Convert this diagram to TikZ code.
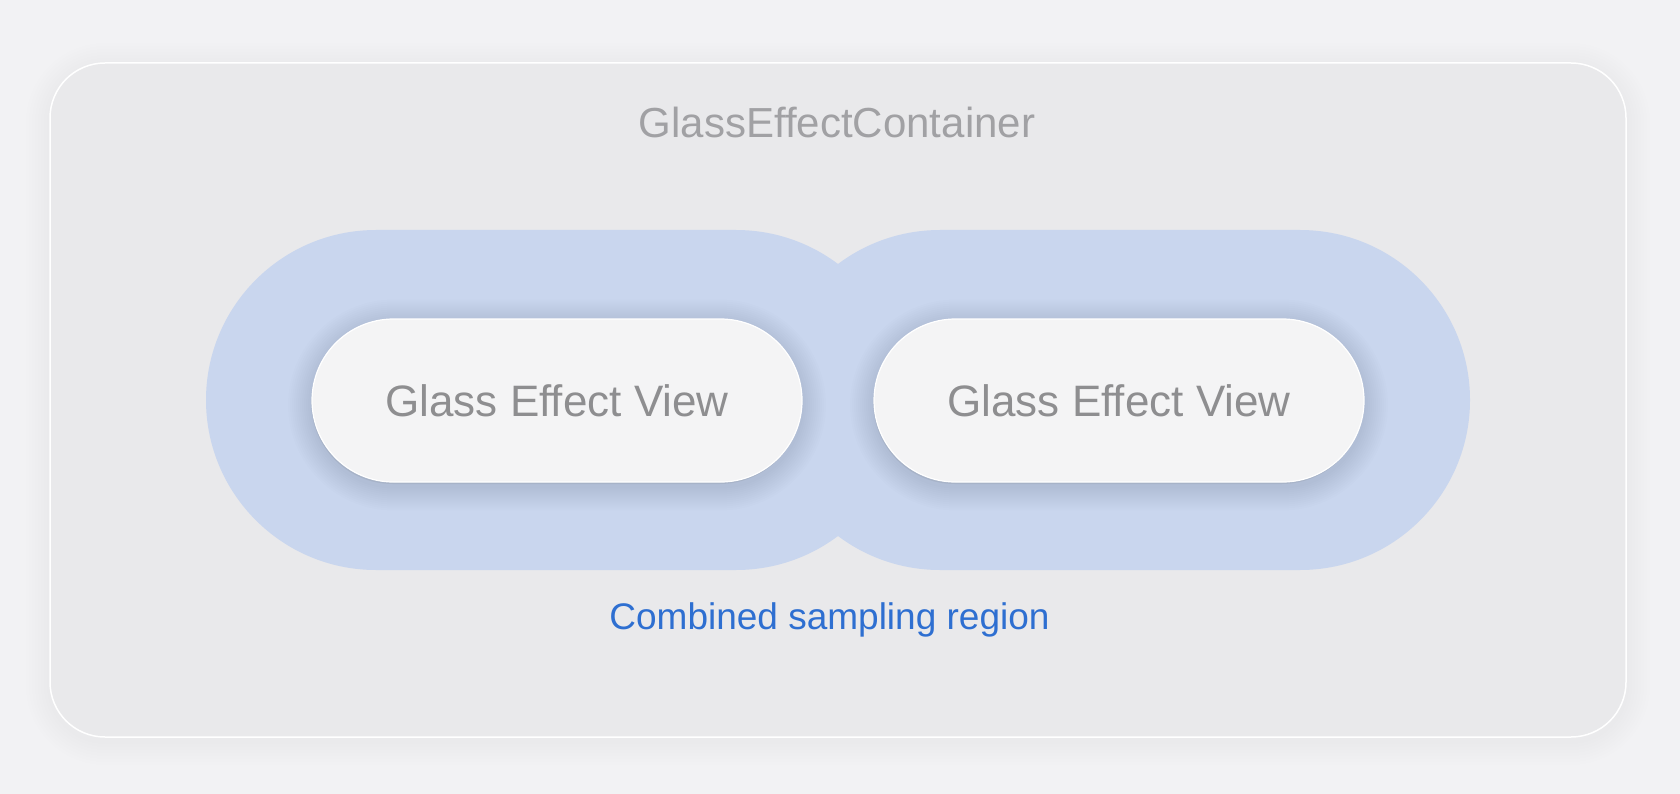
\documentclass[tikz,border=0pt]{standalone}
\usepackage{fontspec}
\setmainfont{Liberation Sans}
\usetikzlibrary{shapes.misc,shadows}
\definecolor{bgpage}{RGB}{242,242,244}
\definecolor{boxgray}{RGB}{233,233,235}
\definecolor{blobblue}{RGB}{201,214,238}
\definecolor{pillwhite}{RGB}{244,244,245}
\definecolor{labelgray}{RGB}{142,142,144}
\definecolor{titlegray}{RGB}{161,161,164}
\definecolor{linkblue}{RGB}{46,111,209}
\begin{document}
\begin{tikzpicture}[x=1pt, y=-1pt,
  blob/.style={rounded rectangle, fill=blobblue, minimum width=700pt, minimum height=340pt, inner sep=0pt},
  halo/.style={rounded rectangle, fill=blue!20!black, opacity=.006, inner sep=0pt},
  glasspill/.style={rounded rectangle, fill=pillwhite, draw=white, line width=1.2pt,
    minimum width=490pt, minimum height=163pt, inner sep=0pt, text=labelgray,
    font=\fontsize{44}{50}\selectfont,
    drop shadow={shadow xshift=-.8pt, shadow yshift=-2pt, opacity=.12, fill=black!60}}]
  % Fondo
  \fill[bgpage] (0,0) rectangle (1680,794);
  \useasboundingbox (0,0) rectangle (1680,794);
  % Sombra del contenedor
  \foreach \d in {3,6,...,24}
    \fill[black, opacity=.0035, rounded corners=55+\d] (50-\d,63-\d+4) rectangle (1626+\d,737+\d+4);
  % Contenedor
  \draw[white, line width=1.5pt, fill=boxgray, rounded corners=55] (50,63) rectangle (1626,737);
  \node[text=titlegray, font=\fontsize{42}{48}\selectfont] (title) at (837,122) {GlassEffectContainer};
  % Region combinada
  \node[blob] (blobL) at (556,400) {};
  \node[blob] (blobR) at (1120,400) {};
  % Halo de las vistas
  \foreach \cx in {557,1119}
    \foreach \d in {2,4,...,24}
      \node[halo, minimum width=490pt+2*\d pt, minimum height=163pt+2*\d pt] at (\cx,405) {};
  % Vistas
  \node[glasspill] (viewL) at (557,400.5) {Glass Effect View};
  \node[glasspill] (viewR) at (1119,400.5) {Glass Effect View};
  \node[text=linkblue, font=\fontsize{37}{42}\selectfont] (region) at (829.5,620) {Combined sampling region};
\end{tikzpicture}
\end{document}
